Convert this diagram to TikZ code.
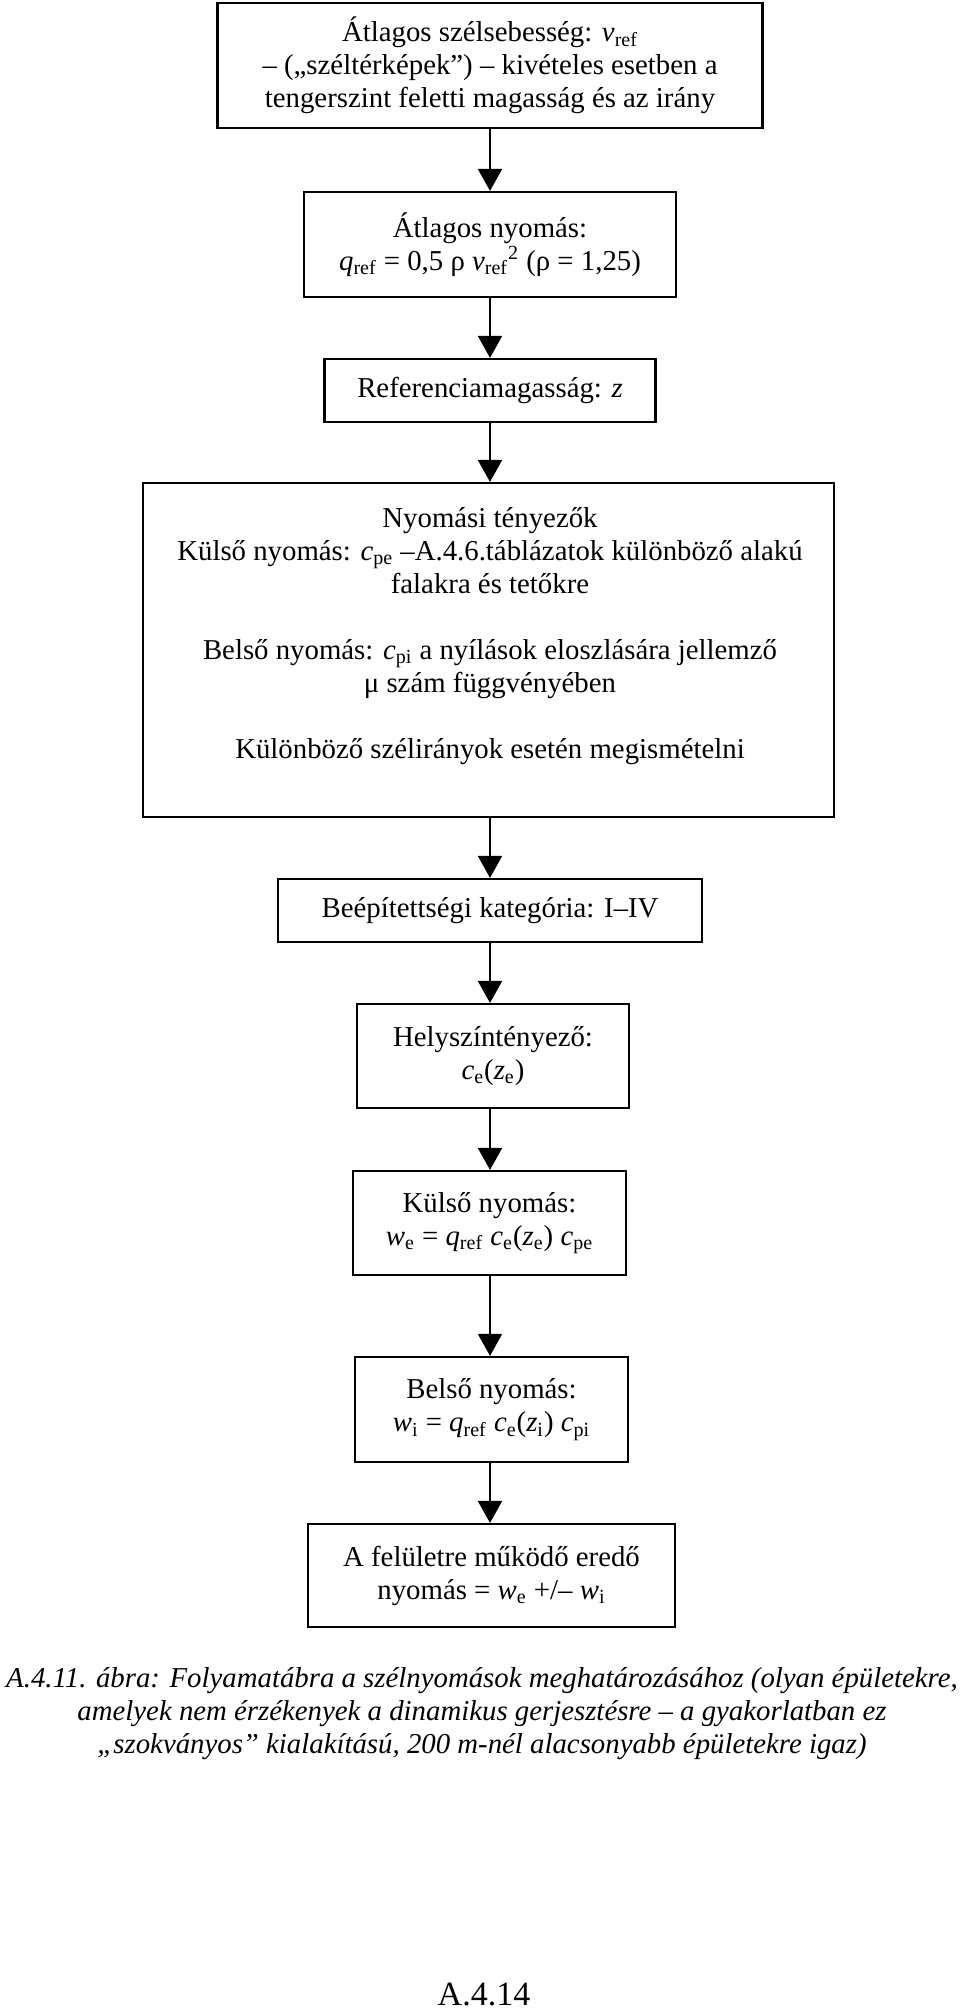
\documentclass[tikz,border=0pt]{standalone}
\usepackage{fontspec}
\setmainfont{Liberation Serif}
\usetikzlibrary{arrows.meta}
\newcommand\iv[1]{\textit{#1}}
\newcommand\sbs[1]{\textsubscript{#1}}
\begin{document}
\begin{tikzpicture}[x=0.5pt,y=-0.5pt,
  box/.style={draw, line width=1.1pt, align=center, inner sep=0pt,
    font=\fontsize{14.4}{16.5}\selectfont},
  txt/.style={align=center, inner sep=0pt, font=\fontsize{14.4}{16.5}\selectfont},
  conn/.style={line width=1pt, -{Triangle[width=12pt,length=11pt]}},
  capt/.style={align=center, inner sep=0pt, font=\fontsize{14.4}{16.5}\selectfont\itshape}]
\useasboundingbox (0,0) rectangle (960,2014);

\node[box, minimum width=272.5pt, minimum height=62.5pt] (b1) at (490,65.5)
  {Átlagos szélsebesség: \iv{v}\sbs{ref}\\ – („széltérképek”) – kivételes esetben a\\ tengerszint feletti magasság és az irány};
\node[box, minimum width=186pt, minimum height=52.5pt] (b2) at (490,244.5)
  {Átlagos nyomás:\\ \iv{q}\sbs{ref} = 0,5 ρ \iv{v}\sbs{ref}\textsuperscript{2} (ρ = 1,25)};
\node[box, minimum width=165.5pt, minimum height=31.5pt] (b3) at (490,390.5)
  {Referenciamagasság: \iv{z}};
\node[box, minimum width=345.5pt, minimum height=167pt] (b4) at (488.5,650) {};
\node[txt, anchor=north] (t4) at (490,507)
  {Nyomási tényezők\\ Külső nyomás: \iv{c}\sbs{pe} –A.4.6.táblázatok különböző alakú\\ falakra és tetőkre\\[16.5pt]
   Belső nyomás: \iv{c}\sbs{pi} a nyílások eloszlására jellemző\\ μ szám függvényében\\[16.5pt]
   Különböző szélirányok esetén megismételni};
\node[box, minimum width=212pt, minimum height=31.5pt] (b5) at (490,910.5)
  {Beépítettségi kategória: I–IV};
\node[box, minimum width=136pt, minimum height=52pt] (b6) at (493,1056)
  {Helyszíntényező:\\ \iv{c}\sbs{e}(\iv{z}\sbs{e})};
\node[box, minimum width=136.5pt, minimum height=52pt] (b7) at (489.5,1223)
  {Külső nyomás:\\ \iv{w}\sbs{e} = \iv{q}\sbs{ref} \iv{c}\sbs{e}(\iv{z}\sbs{e}) \iv{c}\sbs{pe}};
\node[box, minimum width=136.5pt, minimum height=52.5pt] (b8) at (491.5,1409.5)
  {Belső nyomás:\\ \iv{w}\sbs{i} = \iv{q}\sbs{ref} \iv{c}\sbs{e}(\iv{z}\sbs{i}) \iv{c}\sbs{pi}};
\node[box, minimum width=183.5pt, minimum height=51.5pt] (b9) at (491.5,1575.5)
  {A felületre működő eredő\\ nyomás = \iv{w}\sbs{e} +/– \iv{w}\sbs{i}};

\draw[conn] (b1.south -| 490,0) -- (b2.north -| 490,0);
\draw[conn] (b2.south -| 490,0) -- (b3.north -| 490,0);
\draw[conn] (b3.south -| 490,0) -- (b4.north -| 490,0);
\draw[conn] (b4.south -| 490,0) -- (b5.north -| 490,0);
\draw[conn] (b5.south -| 490,0) -- (b6.north -| 490,0);
\draw[conn] (b6.south -| 490,0) -- (b7.north -| 490,0);
\draw[conn] (b7.south -| 490,0) -- (b8.north -| 490,0);
\draw[conn] (b8.south -| 490,0) -- (b9.north -| 490,0);

\node[capt] (cap) at (482,1714)
  {A.4.11. ábra: Folyamatábra a szélnyomások meghatározásához (olyan épületekre,\\
   amelyek nem érzékenyek a dinamikus gerjesztésre – a gyakorlatban ez\\
   „szokványos” kialakítású, 200 m-nél alacsonyabb épületekre igaz)};
\node[inner sep=0pt, anchor=base, font=\fontsize{17}{20}\selectfont] (pg) at (484,2005) {A.4.14};
\end{tikzpicture}
\end{document}
